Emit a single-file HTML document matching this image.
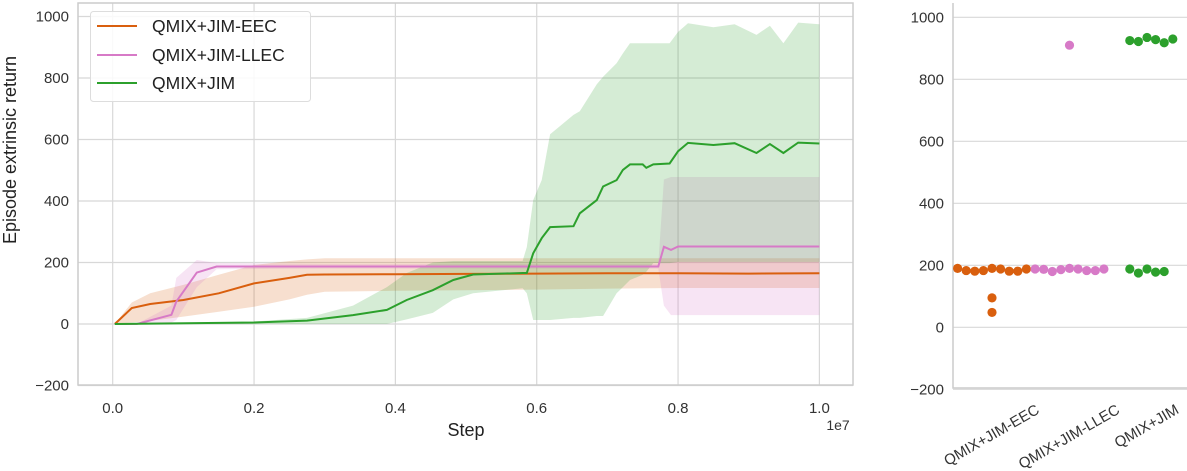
<!DOCTYPE html>
<html><head><meta charset="utf-8"><style>
body{margin:0;background:#fff;}
svg{display:block;font-family:"Liberation Sans","DejaVu Sans",sans-serif;}
</style></head><body>
<svg id="c" width="1187" height="471" viewBox="0 0 1187 471"></svg>
<script>
// ---- Left chart data (step in units of 1e7) ----
const eecT    = [0.003,0.027,0.053,0.1,0.15,0.2,0.25,0.275,0.3,0.4,0.5,0.6,0.7,0.8,0.9,1.0];
const eecMean = [0,52,65,78,100,132,150,160,161,162,163,164,165,165,164,165];
const eecLo   = [0,5,10,24,40,56,80,95,105,108,110,112,115,117,117,117];
const eecHi   = [0,70,100,127,160,192,205,210,214,214,214,214,214,214,214,214];

const llecT    = [0.003,0.034,0.083,0.09,0.119,0.147,0.3,0.5,0.7,0.772,0.78,0.79,0.8,0.9,1.0];
const llecMean = [0,0,30,73,167,187,187,187,187,187,251,241,252,252,252];
const llecLo   = [0,0,5,13,120,178,180,180,180,180,60,29,29,29,29];
const llecHi   = [0,0,60,150,208,198,195,195,195,195,470,478,478,478,478];

const jimT    = [0.003,0.2,0.275,0.34,0.388,0.416,0.453,0.482,0.51,0.58,0.586,0.595,0.607,0.619,0.652,0.661,0.685,0.694,0.713,0.722,0.732,0.75,0.755,0.765,0.788,0.8,0.814,0.85,0.88,0.911,0.93,0.949,0.97,1.0];
const jimMean = [0,5,11,29,46,78,110,143,161,166,166,230,279,315,318,360,403,447,468,501,519,519,508,519,522,562,589,582,588,556,585,556,590,587];
const jimLo   = [0,0,0,0,0,15,36,80,100,116,100,13,13,13,20,20,26,26,100,120,143,160,170,198,198,202,202,202,202,202,202,202,202,202];
const jimHi   = [0,8,20,60,120,166,200,205,205,205,250,403,468,617,680,692,780,804,848,880,913,913,913,913,913,950,978,965,975,940,970,913,980,975];

const yTicks = [-200,0,200,400,600,800,1000];
const xTicks = [0.0,0.2,0.4,0.6,0.8,1.0];

// ---- Right chart data ----
const catNames = ["QMIX+JIM-EEC","QMIX+JIM-LLEC","QMIX+JIM"];
const eecFinal  = [190,188,183,181,181,181,183,188,190,95,48];
const llecFinal = [190,188,186,183,180,183,187,188,188,910];
const jimFinal  = [935,928,922,918,925,930,188,178,175,180,188];

const svg=document.getElementById('c');
const NS='http://www.w3.org/2000/svg';
function mk(tag,attrs,parent){const e=document.createElementNS(NS,tag);for(const k in attrs)e.setAttribute(k,attrs[k]);(parent||svg).appendChild(e);return e;}

const L={x0:78,x1:853,y0:3,y1:385};
const xL=v=>112.7+v*706.7;
const yL=v=>324-v*0.3075;
const R={x0:953,x1:1187,y0:3,y1:388};
const yR=v=>327.3-v*0.31;
const xR=i=>992+i*77.5;

const COL={eec:'#d95f0e',llec:'#d77ac7',jim:'#2ca02c'};

yTicks.forEach(v=>{
  const l=mk('line',{x1:L.x0,x2:L.x1,y1:yL(v),y2:yL(v),stroke:'#d8d8d8','stroke-width':1.2});
  
  
  const t=mk('text',{x:L.x0-9,y:yL(v)+5,'text-anchor':'end','font-size':15,fill:'#333'});
  t.textContent=(v<0?'\u2212'+(-v):v);
  
  
});
xTicks.forEach(v=>{
  const l=mk('line',{x1:xL(v),x2:xL(v),y1:L.y0,y2:L.y1,stroke:'#d8d8d8','stroke-width':1.2});
  
  
  const t=mk('text',{x:xL(v),y:413,'text-anchor':'middle','font-size':15,fill:'#333'});
  t.textContent=v.toFixed(1);
  
  
});

function band(T,lo,hi,color,name){
  let d='M'+T.map((t,i)=>xL(t).toFixed(1)+','+yL(hi[i]).toFixed(1)).join('L');
  for(let i=T.length-1;i>=0;i--) d+='L'+xL(T[i]).toFixed(1)+','+yL(lo[i]).toFixed(1);
  const p=mk('path',{d:d+'Z',fill:color,'fill-opacity':0.2,stroke:'none'});
  
  
}
function line(T,m,color,name){
  const p=mk('path',{d:'M'+T.map((t,i)=>xL(t).toFixed(1)+','+yL(m[i]).toFixed(1)).join('L'),fill:'none',stroke:color,'stroke-width':2});
  
  
}
band(eecT,eecLo,eecHi,COL.eec,'eec-band');
band(llecT,llecLo,llecHi,COL.llec,'llec-band');
band(jimT,jimLo,jimHi,COL.jim,'jim-band');
line(eecT,eecMean,COL.eec,'eec-line');
line(llecT,llecMean,COL.llec,'llec-line');
line(jimT,jimMean,COL.jim,'jim-line');

const lf=mk('rect',{x:L.x0,y:L.y0,width:L.x1-L.x0,height:L.y1-L.y0,fill:'none',stroke:'#ccc','stroke-width':1.5});



const lg=mk('g',{});


mk('rect',{x:90.5,y:11.5,width:220,height:90,rx:3,fill:'#fff','fill-opacity':0.85,stroke:'#ddd'},lg);
[['QMIX+JIM-EEC',COL.eec,26],['QMIX+JIM-LLEC',COL.llec,55],['QMIX+JIM',COL.jim,83]].forEach(([n,c,y])=>{
  const g=mk('g',{},lg);
  
  
  mk('line',{x1:97,x2:137,y1:y,y2:y,stroke:c,'stroke-width':2},g);
  const t=mk('text',{x:152,y:y+6,'font-size':17.5,fill:'#222'},g);t.textContent=n;
});

const yt=mk('text',{x:0,y:0,transform:'translate(16,150) rotate(-90)','text-anchor':'middle','font-size':18,fill:'#222'});
yt.textContent='Episode extrinsic return';


const xt=mk('text',{x:466,y:436,'text-anchor':'middle','font-size':18,fill:'#222'});
xt.textContent='Step';


const ex=mk('text',{x:838,y:430,'text-anchor':'middle','font-size':14,fill:'#333'});
ex.textContent='1e7';



yTicks.forEach(v=>{
  const l=mk('line',{x1:R.x0,x2:R.x1,y1:yR(v),y2:yR(v),stroke:'#d8d8d8','stroke-width':1.2});
  
  
  const t=mk('text',{x:R.x0-9,y:yR(v)+5,'text-anchor':'end','font-size':15,fill:'#333'});
  t.textContent=(v<0?'\u2212'+(-v):v);
  
  
});
const rf=mk('path',{d:`M${R.x0},${R.y0}V${R.y1}H${R.x1}`,fill:'none',stroke:'#ccc','stroke-width':1.5});



function swarm(vals,i,color,name){
  const placed=[];const d=8.6;const cx=xR(i);
  vals.forEach(v=>{
    const y=yR(v);let off=0;
    for(let k=0;k<40;k++){
      const cand=k===0?0:(k%2?1:-1)*Math.ceil(k/2)*d;
      const ok=placed.every(p=>Math.hypot(p[0]-cand,p[1]-y)>=d-0.5);
      if(ok){off=cand;break;}
    }
    placed.push([off,y]);
    const c=mk('circle',{cx:cx+off,cy:y,r:4.6,fill:color});
    
    
  });
}
swarm(eecFinal,0,COL.eec,'eec-point');
swarm(llecFinal,1,COL.llec,'llec-point');
swarm(jimFinal,2,COL.jim,'jim-point');

catNames.forEach((n,i)=>{
  const t=mk('text',{x:0,y:0,'text-anchor':'middle','font-size':15,fill:'#333'});
  t.textContent=n;
  
  
  const w=t.getComputedTextLength();
  const h=w*0.5+15*0.87;
  t.setAttribute('transform',`translate(${xR(i)+2},${400+h/2+6}) rotate(-30)`);
});
</script>
</body></html>
